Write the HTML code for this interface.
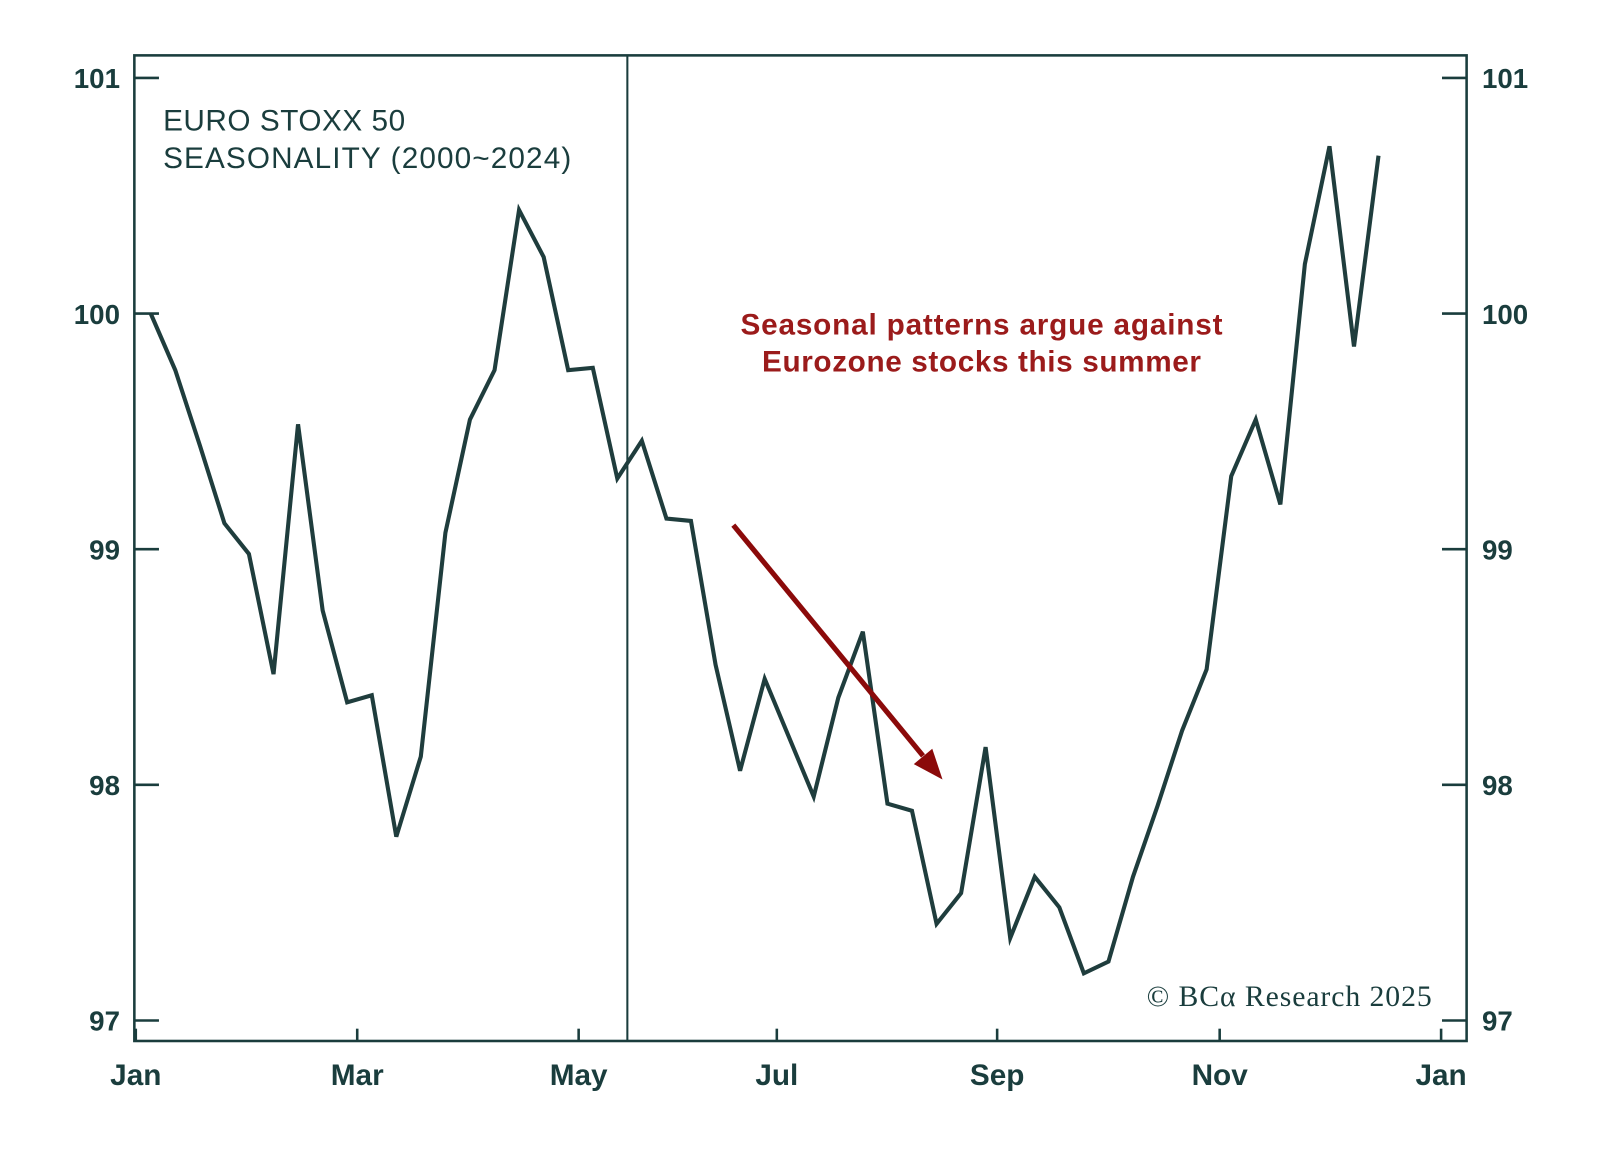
<!DOCTYPE html>
<html><head><meta charset="utf-8"><style>
html,body{margin:0;padding:0;background:#fff;}
svg{display:block;font-family:"Liberation Sans",sans-serif;}
</style></head><body>
<svg id="chart" width="1600" height="1169" viewBox="0 0 1600 1169">
<rect x="0" y="0" width="1600" height="1169" fill="#fff"/>
<g transform="scale(1.0256)">
<g id="axes"></g>
<g id="series"></g>
<text x="159" y="127" font-size="29" fill="#1a3d3d" textLength="236">EURO STOXX 50</text>
<text x="159" y="164" font-size="29" fill="#1a3d3d" textLength="398">SEASONALITY (2000~2024)</text>
<text x="957" y="326" font-size="29" font-weight="bold" fill="#9b1b1b" text-anchor="middle" textLength="470">Seasonal patterns argue against</text>
<text x="957" y="362" font-size="29" font-weight="bold" fill="#9b1b1b" text-anchor="middle" textLength="428">Eurozone stocks this summer</text>
<g>
<line x1="715" y1="512" x2="900" y2="737" stroke="#8b0a0a" stroke-width="5"/>
<polygon points="919,760 891,745 909,730" fill="#8b0a0a"/>
</g>
<text x="1396" y="981" font-size="29" fill="#1a3d3d" text-anchor="end" textLength="278" font-family="Liberation Serif, serif">© BCα Research 2025</text>
</g>
</svg>
<script>
const monthLabels = ["Jan","Mar","May","Jul","Sep","Nov","Jan"];
const monthTicks = [0,2,4,5.79,7.78,9.79,11.79];
const yTicks = [97,98,99,100,101];
const weekValues = [100.00,99.76,99.44,99.11,98.98,98.47,99.53,98.74,98.35,98.38,97.78,98.12,99.07,99.55,99.76,100.44,100.24,99.76,99.77,99.30,99.46,99.13,99.12,98.51,98.06,98.45,98.20,97.95,98.37,98.65,97.92,97.89,97.41,97.54,98.16,97.35,97.61,97.48,97.20,97.25,97.61,97.91,98.23,98.49,99.31,99.55,99.19,100.21,100.71,99.86,100.67];
const splitMonth = 4.44;

const NS="http://www.w3.org/2000/svg";
const L=131,R=1430,T=54,B=1015,C="#1a3d3d";
function xM(m){return 132.4+m*107.95;}
function xW(i){return xM(0.135+i*0.2218);}
function yV(v){return 305.75-(v-100)*229.75;}
function mk(tag,attrs,parent){const e=document.createElementNS(NS,tag);for(const k in attrs)e.setAttribute(k,attrs[k]);parent.appendChild(e);return e;}
const ax=document.getElementById('axes'), se=document.getElementById('series');

let fr=mk('rect',{x:L,y:T,width:R-L,height:B-T,fill:'none',stroke:C,'stroke-width':2.5},ax);



yTicks.forEach(v=>{
  const y=yV(v);
  let t1=mk('line',{x1:L,x2:L+24,y1:y,y2:y,stroke:C,'stroke-width':2.5},ax);
  
  
  let t2=mk('line',{x1:R-24,x2:R,y1:y,y2:y,stroke:C,'stroke-width':2.5},ax);
  
  
  let l1=mk('text',{x:117,y:y+10,'font-size':27,'font-weight':'bold',fill:C,'text-anchor':'end'},ax);
  l1.textContent=v;
  
  
  let l2=mk('text',{x:1445,y:y+10,'font-size':27,'font-weight':'bold',fill:C},ax);
  l2.textContent=v;
  
  
});

monthTicks.forEach((m,i)=>{
  const x=xM(m);
  let t=mk('line',{x1:x,x2:x,y1:B-12,y2:B,stroke:C,'stroke-width':2.5},ax);
  
  
  let l=mk('text',{x:x,y:1058,'font-size':29,'font-weight':'bold',fill:C,'text-anchor':'middle'},ax);
  l.textContent=monthLabels[i];
  
  
});

let vl=mk('line',{x1:xM(splitMonth),x2:xM(splitMonth),y1:T,y2:B,stroke:C,'stroke-width':2},ax);



const pts=weekValues.map((v,i)=>xW(i).toFixed(1)+','+yV(v).toFixed(1)).join(' ');
let pl=mk('polyline',{points:pts,fill:'none',stroke:'#1f3d3d','stroke-width':4,'stroke-linejoin':'miter'},se);


</script>
</body></html>
